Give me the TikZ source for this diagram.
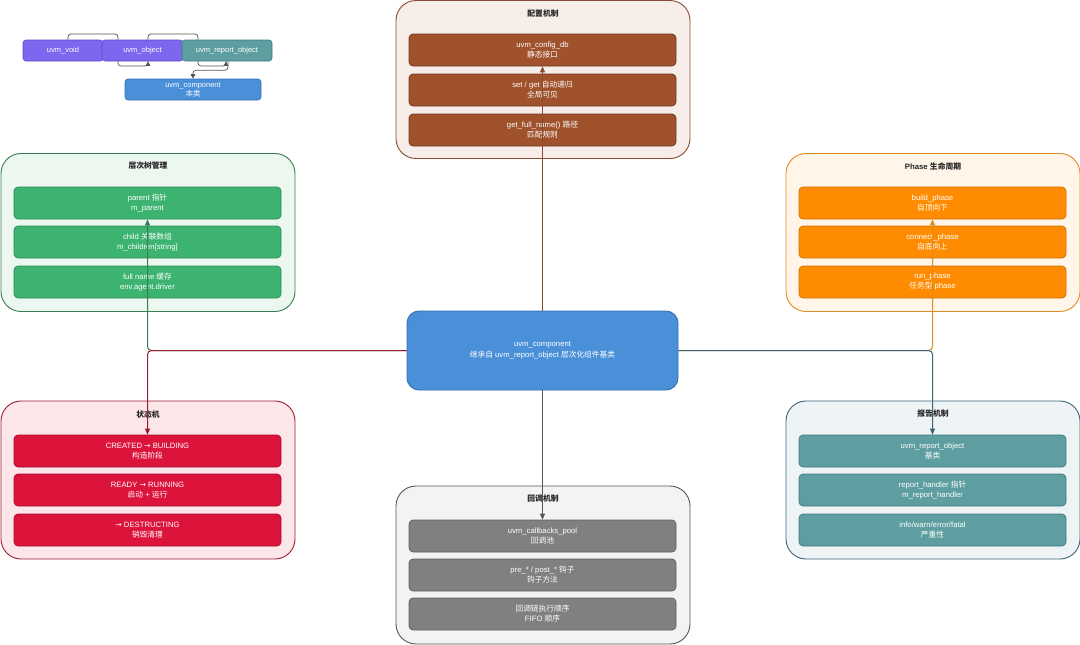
\documentclass[tikz,border=0pt]{standalone}
\usepackage{fontspec}
\setmainfont{Liberation Sans}
\newfontfamily\zhfont{Noto Sans CJK SC}
\newfontfamily\arrfont{DejaVu Sans}
\newcommand\zh[1]{{\zhfont #1}}
\newcommand\rarr{{\arrfont →}}
\usetikzlibrary{arrows.meta,backgrounds}
\definecolor{cfgF}{HTML}{A0522D}\definecolor{cfgB}{HTML}{6E3A1F}
\definecolor{cfgG}{HTML}{F7EEEA}\definecolor{cfgL}{HTML}{8B4A32}
\definecolor{grnF}{HTML}{3CB371}\definecolor{grnB}{HTML}{2E8B57}
\definecolor{grnG}{HTML}{ECF7EF}\definecolor{grnL}{HTML}{3A7D52}
\definecolor{orgF}{HTML}{FF8C00}\definecolor{orgB}{HTML}{CC7000}
\definecolor{orgG}{HTML}{FFF5E8}\definecolor{orgL}{HTML}{E08B2A}
\definecolor{redF}{HTML}{DC143C}\definecolor{redB}{HTML}{A3102D}
\definecolor{redG}{HTML}{FCE6EA}\definecolor{redL}{HTML}{9B1C31}
\definecolor{tealF}{HTML}{5F9EA0}\definecolor{tealB}{HTML}{3F7A80}
\definecolor{tealG}{HTML}{EEF4F6}\definecolor{tealL}{HTML}{3A6474}
\definecolor{grayF}{HTML}{808080}\definecolor{grayB}{HTML}{606060}
\definecolor{grayG}{HTML}{F3F3F3}\definecolor{grayL}{HTML}{555555}
\definecolor{ctrF}{HTML}{4A90D9}\definecolor{ctrB}{HTML}{3570B0}
\definecolor{purF}{HTML}{7B68EE}\definecolor{purB}{HTML}{5A48C8}
\tikzset{
 grp/.style={draw, rounded corners=20pt, line width=0.9pt, minimum width=294pt, minimum height=158pt, inner sep=0pt},
 item/.style={draw, rounded corners=4pt, line width=0.7pt, minimum width=267pt, minimum height=32pt, text=white, font=\fontsize{7.7}{10}\selectfont, align=center, inner sep=0pt},
 gtitle/.style={font=\fontsize{7.8}{9}\selectfont\bfseries, text=black!85},
 conn/.style={line width=1pt, rounded corners=4pt, -{Triangle[length=6pt,width=5pt]}},
 legbox/.style={draw, rounded corners=3pt, line width=0.6pt, minimum height=21pt, text=white, font=\fontsize{7.5}{9}\selectfont, align=center, inner sep=0pt},
 legline/.style={draw=grayL, line width=0.7pt, rounded corners=3pt, -{Triangle[length=4.5pt,width=4.5pt]}}
}
\begin{document}
\begin{tikzpicture}[x=1pt,y=-1pt]
\useasboundingbox (0,0) rectangle (1080,645);
% legend
\node[legbox, fill=purF, draw=purB, minimum width=80pt] (v) at (63,50.5) {uvm\_void};
\node[legbox, fill=purF, draw=purB, minimum width=81pt] (o) at (142.5,50.5) {uvm\_object};
\node[legbox, fill=tealF, draw=tealB, minimum width=90pt] (r) at (227,50.5) {uvm\_report\_object};
\node[legbox, fill=ctrF, draw=ctrB, minimum width=136pt] (c) at (193,89.5) {uvm\_component\\\zh{本类}};
\begin{scope}[on background layer]
\draw[legline] ([xshift=5pt]v.north) |- (118,34) -- (118,66) -| ([xshift=5.5pt]o.south);
\draw[legline] ([xshift=5.5pt]o.north) |- (198,34) -- (198,66) -| ([xshift=-1pt]r.south);
\draw[legline] ([xshift=1pt]r.south) -- ++(0,9) -| (c.north);
\end{scope}
% groups
\node[grp, fill=cfgG, draw=cfgL] (gcfg) at (543,79.5) {};
\node[gtitle] (tcfg) at (543,14) {\zh{配置机制}};
\node[item, fill=cfgF, draw=cfgB] (cfg1) at (542.5,50) {uvm\_config\_db\\\zh{静态接口}};
\node[item, fill=cfgF, draw=cfgB] (cfg2) at (542.5,90) {set / get \zh{自动递归}\\\zh{全局可见}};
\node[item, fill=cfgF, draw=cfgB] (cfg3) at (542.5,130) {get\_full\_name() \zh{路径}\\\zh{匹配规则}};

\node[grp, fill=grnG, draw=grnL] (ghier) at (148,232.5) {};
\node[gtitle] (thier) at (148,166) {\zh{层次树管理}};
\node[item, fill=grnF, draw=grnB] (h1) at (147.5,203) {parent \zh{指针}\\m\_parent};
\node[item, fill=grnF, draw=grnB] (h2) at (147.5,242) {child \zh{关联数组}\\m\_children[string]};
\node[item, fill=grnF, draw=grnB] (h3) at (147.5,282) {full name \zh{缓存}\\env.agent.driver};

\node[grp, fill=orgG, draw=orgL] (gph) at (933,232.5) {};
\node[gtitle] (tph) at (933,166) {Phase \zh{生命周期}};
\node[item, fill=orgF, draw=orgB] (p1) at (932.5,203) {build\_phase\\\zh{自顶向下}};
\node[item, fill=orgF, draw=orgB] (p2) at (932.5,242) {connect\_phase\\\zh{自底向上}};
\node[item, fill=orgF, draw=orgB] (p3) at (932.5,282) {run\_phase\\\zh{任务型} phase};

\node[grp, fill=redG, draw=redL] (gst) at (148,480) {};
\node[gtitle] (tst) at (148,414) {\zh{状态机}};
\node[item, fill=redF, draw=redB] (s1) at (147.5,451) {CREATED \rarr{} BUILDING\\\zh{构造阶段}};
\node[item, fill=redF, draw=redB] (s2) at (147.5,490) {READY \rarr{} RUNNING\\\zh{启动} + \zh{运行}};
\node[item, fill=redF, draw=redB] (s3) at (147.5,530) {\rarr{} DESTRUCTING\\\zh{销毁清理}};

\node[grp, fill=tealG, draw=tealL] (grep) at (933,480) {};
\node[gtitle] (trep) at (933,414) {\zh{报告机制}};
\node[item, fill=tealF, draw=tealB] (r1) at (932.5,451) {uvm\_report\_object\\\zh{基类}};
\node[item, fill=tealF, draw=tealB] (r2) at (932.5,490) {report\_handler \zh{指针}\\m\_report\_handler};
\node[item, fill=tealF, draw=tealB] (r3) at (932.5,530) {info/warn/error/fatal\\\zh{严重性}};

\node[grp, fill=grayG, draw=grayL] (gcb) at (543,565) {};
\node[gtitle] (tcb) at (543,499) {\zh{回调机制}};
\node[item, fill=grayF, draw=grayB] (cb1) at (542.5,536) {uvm\_callbacks\_pool\\\zh{回调池}};
\node[item, fill=grayF, draw=grayB] (cb2) at (542.5,575) {pre\_* / post\_* \zh{钩子}\\\zh{钩子方法}};
\node[item, fill=grayF, draw=grayB] (cb3) at (542.5,614) {\zh{回调链执行顺序}\\FIFO \zh{顺序}};

% center
\node[draw=ctrB, fill=ctrF, rounded corners=12pt, line width=0.9pt, minimum width=271pt, minimum height=79pt, text=white, align=center, font=\fontsize{7.7}{10.5}\selectfont, inner sep=0pt] (ctr) at (542.5,350.5) {uvm\_component\\\zh{继承自} uvm\_report\_object \zh{层次化组件基类}};

% connectors
\draw[conn, draw=cfgL] (ctr.north) -- (cfg1.south);
\draw[conn, draw=grnL] (ctr.west) -| (h1.south);
\draw[conn, draw=redL] (ctr.west) -| (s1.north);
\draw[conn, draw=orgL] (ctr.east) -| (p1.south);
\draw[conn, draw=tealL] (ctr.east) -| (r1.north);
\draw[conn, draw=grayL] (ctr.south) -- (cb1.north);
\end{tikzpicture}
\end{document}
